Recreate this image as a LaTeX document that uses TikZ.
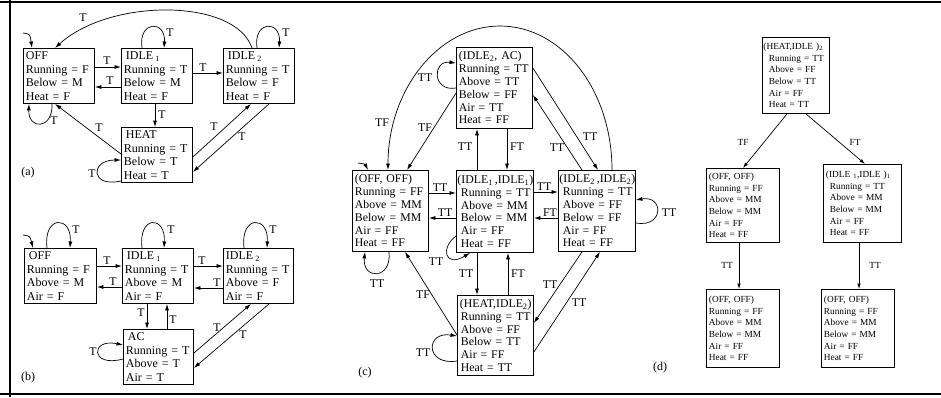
\documentclass[tikz,border=0pt]{standalone}
\usepackage{fontspec}
\setmainfont{Liberation Serif}
\usetikzlibrary{arrows.meta}
\begin{document}
\hyphenpenalty=10000
\exhyphenpenalty=10000
\begin{tikzpicture}[x=1pt,y=-1pt,
  stbox/.style={draw, line width=0.9pt, anchor=north west, inner xsep=2.5pt, inner ysep=0pt, align=left},
  sz/.style n args={3}{minimum width=#1, minimum height=#2, text width=#3},
  fa/.style={font=\fontsize{12}{13.5}\selectfont},
  fc/.style={font=\fontsize{11.8}{12.8}\selectfont},
  fd/.style={font=\fontsize{9.3}{11.6}\selectfont},
  arr/.style={-{Latex[length=6.5pt,width=4pt]}, line width=0.7pt},
  arrd/.style={-{Latex[length=5.5pt,width=3.5pt]}, line width=0.7pt},
  lab/.style={inner sep=0pt, font=\fontsize{11.8}{11.8}\selectfont},
  labd/.style={inner sep=0pt, font=\fontsize{9.3}{9.3}\selectfont},
  frame/.style={line width=2.2pt}]
\useasboundingbox (0,0) rectangle (941,397);
% frame
\draw[frame] (0,2) -- (941,2);
\draw[frame] (0,394) -- (941,394);
\draw[frame] (10,0) -- (10,397);

% ---------------- (a)
\node[stbox,fa,sz={71pt}{55pt}{66pt}] (aoff) at (23,48) {OFF\\Running~=~F\\Below~=~M\\Heat~=~F};
\node[stbox,fa,sz={71pt}{55pt}{66pt}] (aidle1) at (121,48) {\hspace*{2pt}IDLE\,\textsubscript{1}\\Running~=~T\\Below~=~M\\Heat~=~F};
\node[stbox,fa,sz={71pt}{55pt}{66pt}] (aidle2) at (223,48) {\hspace*{2pt}IDLE\,\textsubscript{2}\\Running~=~T\\Below~=~F\\Heat~=~F};
\node[stbox,fa,sz={71pt}{55pt}{66pt}] (aheat) at (121,127) {\hspace*{2pt}HEAT\\Running~=~T\\Below~=~T\\Heat~=~T};
\coordinate (ainit) at (23,33);
\draw[arr] (ainit) .. controls (30,34) .. (aoff.north -| 32,0);
\draw[arr] (aoff.south -| 52,0) .. controls (53,130) and (28,130) .. (aoff.south -| 29,0);
\node[lab] (la1) at (54,121) {T};
\draw[arr] (aoff.east |- 0,67) -- (aidle1.west |- 0,67);
\node[lab] (la2) at (107,61) {T};
\draw[arr] (aidle1.west |- 0,87) -- (aoff.east |- 0,87);
\node[lab] (la3) at (110,81) {T};
\draw[arr] (aidle1.north -| 142,0) .. controls (138,20) and (166,20) .. (aidle1.north -| 164,0);
\node[lab] (la4) at (170,33) {T};
\draw[arr] (aidle1.east |- 0,73) -- (aidle2.west |- 0,73);
\node[lab] (la5) at (203,68) {T};
\draw[arr] (aidle2.north -| 257,0) .. controls (253,20) and (281,20) .. (aidle2.north -| 279,0);
\node[lab] (la6) at (286,33) {T};
\draw[arr] (aidle2.north -| 252,0) .. controls (235,-2) and (110,-2) .. (aoff.north -| 55,0);
\node[lab] (la7) at (83,18) {T};
\draw[arr] (aidle1.south -| 155,0) -- (aheat.north -| 155,0);
\node[lab] (la8) at (162,115) {T};
\draw[arr] (aheat.west |- 0,154) -- (aoff.south -| 55,0);
\node[lab] (la9) at (99,128) {T};
\draw[arr] (aheat.east |- 0,157) -- (aidle2.south -| 251,0);
\node[lab] (la10) at (214,127) {T};
\draw[arr] (aidle2.south -| 269,0) -- (aheat.east |- 0,172);
\node[lab] (la11) at (242,137) {T};
\draw[arr] (aheat.west |- 0,181) .. controls (90,188) and (90,160) .. (aheat.west |- 0,160);
\node[lab] (la12) at (92,174) {T};
\node[lab,font=\fontsize{12}{12}\selectfont] (alabel) at (28,173) {(a)};

% ---------------- (b)
\node[stbox,fa,sz={72pt}{55pt}{67pt}] (boff) at (24,248) {\hspace*{2pt}OFF\\Running~=~F\\Above~=~M\\Air~=~F};
\node[stbox,fa,sz={71pt}{55pt}{66pt}] (bidle1) at (122,248) {\hspace*{2pt}IDLE\,\textsubscript{1}\\Running~=~T\\Above~=~M\\Air~=~F};
\node[stbox,fa,sz={70pt}{55pt}{65pt}] (bidle2) at (223,248) {IDLE\,\textsubscript{2}\\Running~=~T\\Above~=~F\\Air~=~F};
\node[stbox,fa,sz={70pt}{55pt}{65pt}] (bac) at (123,329) {\hspace*{2pt}AC\\Running~=~T\\Above~=~T\\Air~=~T};
\coordinate (binit) at (23,235);
\draw[arr] (binit) .. controls (30,236) .. (boff.north -| 33,0);
\draw[arr] (boff.north -| 47,0) .. controls (43,215) and (72,215) .. (boff.north -| 70,0);
\node[lab] (lb1) at (76,230) {T};
\draw[arr] (bidle1.north -| 142,0) .. controls (138,215) and (166,215) .. (bidle1.north -| 164,0);
\node[lab] (lb2) at (171,230) {T};
\draw[arr] (bidle2.north -| 244,0) .. controls (240,215) and (269,215) .. (bidle2.north -| 267,0);
\node[lab] (lb3) at (273,230) {T};
\draw[arr] (boff.east |- 0,266) -- (bidle1.west |- 0,266);
\node[lab] (lb4) at (107,261) {T};
\draw[arr] (bidle1.west |- 0,287) -- (boff.east |- 0,287);
\node[lab] (lb5) at (113,282) {T};
\draw[arr] (bidle1.east |- 0,266) -- (bidle2.west |- 0,266);
\node[lab] (lb6) at (202,261) {T};
\draw[arr] (bidle2.west |- 0,288) -- (bidle1.east |- 0,288);
\node[lab] (lb7) at (217,283) {T};
\draw[arr] (bidle1.south -| 147,0) -- (bac.north -| 147,0);
\node[lab] (lb8) at (141,313) {T};
\draw[arr] (bac.north -| 167,0) -- (bidle1.south -| 167,0);
\node[lab] (lb9) at (173,320) {T};
\draw[arr] (bac.east |- 0,353) -- (bidle2.south -| 251,0);
\node[lab] (lb10) at (217,328) {T};
\draw[arr] (bidle2.south -| 269,0) -- (bac.east |- 0,368);
\node[lab] (lb11) at (243,335) {T};
\draw[arr] (bac.west |- 0,359) .. controls (90,368) and (90,338) .. (bac.west |- 0,345);
\node[lab] (lb12) at (93,352) {T};
\node[lab,font=\fontsize{12}{12}\selectfont] (blabel) at (28,378) {(b)};

% ---------------- (c)
\node[stbox,fc,sz={76pt}{81pt}{71pt}] (cac) at (456,47) {(IDLE\textsubscript{2},~AC)\\Running~=~TT\\Above~=~TT\\Below~=~FF\\Air~=~TT\\Heat~=~FF};
\node[stbox,fc,sz={76pt}{81pt}{71pt}] (coff) at (352,170) {(OFF,~OFF)\\Running~=~FF\\Above~=~MM\\Below~=~MM\\Air~=~FF\\Heat~=~FF};
\node[stbox,fc,sz={77pt}{82pt}{72pt}] (ci1) at (456,170) {\hspace*{-1.5pt}(IDLE\textsubscript{1}\,,IDLE\textsubscript{1})\\\hspace*{2pt}Running~=~TT\\\hspace*{2pt}Above~=~MM\\\hspace*{2pt}Below~=~MM\\\hspace*{2pt}Air~=~FF\\\hspace*{2pt}Heat~=~FF};
\node[stbox,fc,sz={77pt}{81pt}{72pt}] (ci2) at (558,170) {\hspace*{-1.5pt}(IDLE\textsubscript{2}\,,IDLE\textsubscript{2})\\\hspace*{2pt}Running~=~TT\\\hspace*{2pt}Above~=~FF\\\hspace*{2pt}Below~=~FF\\\hspace*{2pt}Air~=~FF\\\hspace*{2pt}Heat~=~FF};
\node[stbox,fc,sz={76pt}{80pt}{71pt}] (cheat) at (457,295) {(HEAT,IDLE\textsubscript{2})\\\hspace*{1pt}\mbox{Running~=~TT}\\\hspace*{1pt}Above~=~FF\\\hspace*{1pt}Below~=~TT\\\hspace*{1pt}Air~=~FF\\\hspace*{1pt}Heat~=~TT};
\coordinate (cinit) at (358,163);
\draw[arr] (cinit) .. controls (365,164) .. (coff.north -| 368,0);
\draw[arr] (ci2.north -| 612,0) .. controls (612,90) and (562,26) .. (500,26) .. controls (438,26) and (388,90) .. (coff.north -| 388,0);
\node[lab] (lc1) at (382,123) {TF};
\draw[arr] (cac.west |- 0,93) -- (coff.north -| 407,0);
\node[lab] (lc2) at (425,128) {TF};
\draw[arr] (cac.west |- 0,88) .. controls (432,92) and (432,60) .. (cac.west |- 0,63);
\node[lab] (lc3) at (425,78) {TT};
\draw[arr] (coff.east |- 0,193) -- (ci1.west |- 0,193);
\node[lab] (lc4) at (440,188) {TT};
\draw[arr] (ci1.west |- 0,218) -- (coff.east |- 0,218);
\node[lab] (lc5) at (445,213) {TT};
\draw[arr] (ci1.east |- 0,192) -- (ci2.west |- 0,192);
\node[lab] (lc6) at (544,187) {TT};
\draw[arr] (ci2.west |- 0,218) -- (ci1.east |- 0,218);
\node[lab] (lc7) at (550,213) {FT};
\draw[arr] (ci1.north -| 477,0) -- (cac.south -| 477,0);
\node[lab] (lc8) at (465,147) {TT};
\draw[arr] (cac.south -| 507,0) -- (ci1.north -| 507,0);
\node[lab] (lc9) at (517,147) {FT};
\draw[arr] (cac.east |- 0,68) -- (ci2.north -| 598,0);
\node[lab] (lc10) at (590,137) {TT};
\draw[arr] (ci2.north -| 582,0) -- (cac.east |- 0,95);
\node[lab] (lc11) at (557,148) {TT};
\draw[arr] (ci1.west |- 0,236) .. controls (440,248) and (445,268) .. (ci1.south -| 470,0);
\node[lab] (lc12) at (436,262) {TT};
\draw[arr] (ci1.south -| 477,0) -- (cheat.north -| 477,0);
\node[lab] (lc13) at (466,274) {TT};
\draw[arr] (cheat.north -| 508,0) -- (ci1.south -| 508,0);
\node[lab] (lc14) at (518,274) {FT};
\draw[arr] (cheat.west |- 0,335) -- (coff.south -| 405,0);
\node[lab] (lc15) at (423,295) {TF};
\draw[arr] (coff.south -| 389,0) .. controls (392,280) and (362,280) .. (coff.south -| 365,0);
\node[lab] (lc16) at (377,284) {TT};
\draw[arr] (cheat.west |- 0,361) .. controls (425,366) and (425,331) .. (cheat.west |- 0,336);
\node[lab] (lc17) at (423,353) {TT};
\draw[arr] (ci2.south -| 582,0) -- (cheat.east |- 0,323);
\node[lab] (lc18) at (550,285) {TT};
\draw[arr] (cheat.east |- 0,352) -- (ci2.south -| 600,0);
\node[lab] (lc19) at (579,303) {TT};
\draw[arr] (ci2.east |- 0,223) .. controls (664,228) and (664,195) .. (ci2.east |- 0,200);
\node[lab] (lc20) at (669,213) {TT};
\node[lab,font=\fontsize{12}{12}\selectfont] (clabel) at (365,373) {(c)};
\node[lab,font=\fontsize{12}{12}\selectfont] (dlabel) at (660,368) {(d)};

% ---------------- (d)
\node[stbox,fd,sz={67pt}{76pt}{62pt}] (dtop) at (762,37) {\hspace*{-1.5pt}(HEAT,IDLE~)\textsubscript{2}\\\hspace*{4pt}Running~=~TT\\\hspace*{4pt}Above~=~FF\\\hspace*{4pt}Below~=~TT\\\hspace*{4pt}Air~=~FF\\\hspace*{4pt}Heat~=~TT};
\node[stbox,fd,sz={73pt}{74pt}{68pt}] (dl1) at (706,168) {(OFF,~OFF)\\Running~=~FF\\Above~=~MM\\Below~=~MM\\Air~=~FF\\Heat~=~FF};
\node[stbox,fd,sz={78pt}{78pt}{73pt}] (dr1) at (823,164) {(IDLE~\textsubscript{1},IDLE~)\textsubscript{1}\\\hspace*{4pt}Running~=~TT\\\hspace*{4pt}Above~=~MM\\\hspace*{4pt}Below~=~MM\\\hspace*{4pt}Air~=~FF\\\hspace*{4pt}Heat~=~FF};
\node[stbox,fd,sz={73pt}{78pt}{68pt}] (dl2) at (706,289) {(OFF,~OFF)\\Running~=~FF\\Above~=~MM\\Below~=~MM\\Air~=~FF\\Heat~=~FF};
\node[stbox,fd,sz={73pt}{78pt}{68pt}] (dr2) at (821,289) {(OFF,~OFF)\\Running~=~FF\\Above~=~MM\\Below~=~MM\\Air~=~FF\\Heat~=~FF};
\draw[arrd] (dtop.south -| 787,0) -- (dl1.north -| 743,0);
\node[labd] (ld1) at (743,142) {TF};
\draw[arrd] (dtop.south -| 806,0) -- (dr1.north -| 865,0);
\node[labd] (ld2) at (855,142) {FT};
\draw[arrd] (dl1.south -| 739,0) -- (dl2.north -| 739,0);
\node[labd] (ld3) at (727,265) {TT};
\draw[arrd] (dr1.south -| 859,0) -- (dr2.north -| 859,0);
\node[labd] (ld4) at (875,265) {TT};
\end{tikzpicture}
\end{document}
